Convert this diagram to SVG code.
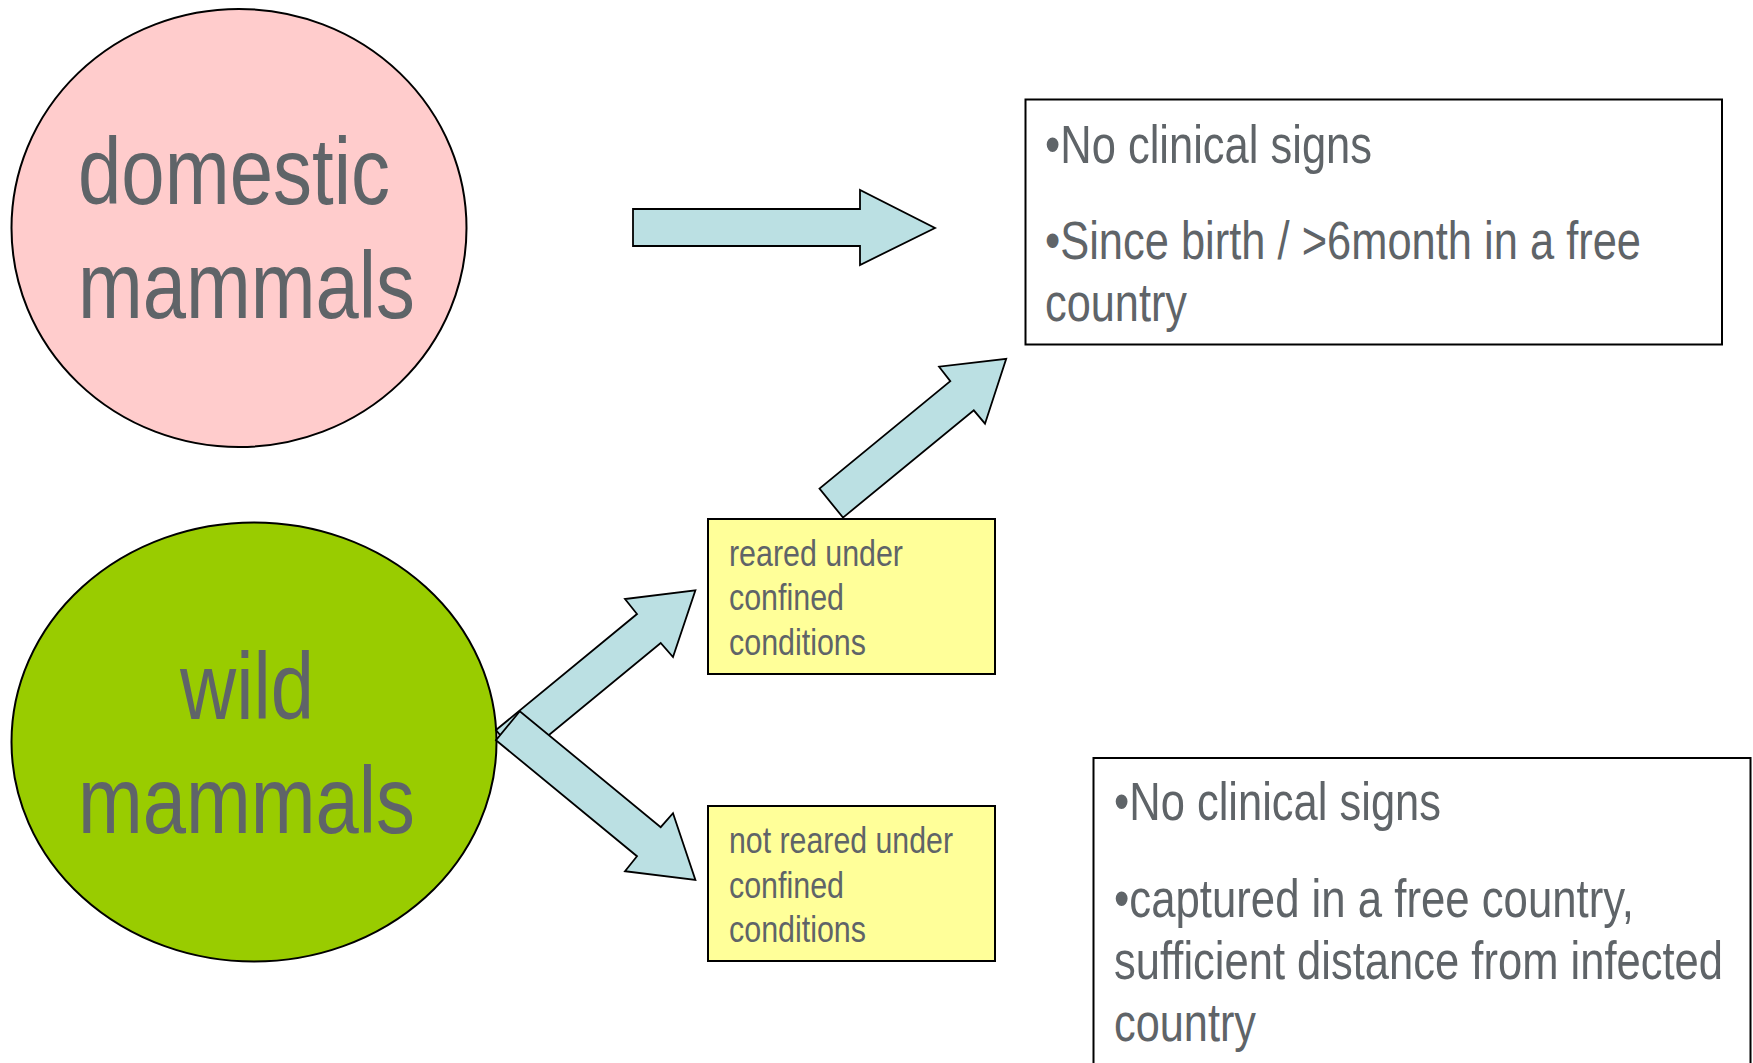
<svg xmlns="http://www.w3.org/2000/svg" width="1753" height="1063" viewBox="0 0 1753 1063">
<style>
text{font-family:"Liberation Sans Narrow","Arial Narrow","Liberation Sans",sans-serif;fill:#5f6468}
.big{font-size:95px}
.box{font-size:53px}
.small{font-size:37px}
.arrow{fill:#bbe0e3;stroke:#000;stroke-width:1.8;stroke-linejoin:miter}
.node{stroke:#000;stroke-width:2}
</style>
<rect width="1753" height="1063" fill="#fff"/>
<g id="domestic">
<ellipse class="node" cx="239" cy="228" rx="227.5" ry="219" fill="#ffcccc"/>
<text class="big" x="78" y="204" textLength="312" lengthAdjust="spacingAndGlyphs">domestic</text>
<text class="big" x="78" y="318" textLength="337" lengthAdjust="spacingAndGlyphs">mammals</text>
</g>
<g id="wild">
<ellipse class="node" cx="254" cy="742" rx="242.5" ry="219.5" fill="#99cc00"/>
<text class="big" x="180" y="719" textLength="134" lengthAdjust="spacingAndGlyphs">wild</text>
<text class="big" x="78" y="833" textLength="337" lengthAdjust="spacingAndGlyphs">mammals</text>
</g>
<g id="criteria-domestic">
<rect class="node" x="1025.5" y="99.5" width="696.5" height="245" fill="#fff"/>
<text class="box" x="1045" y="163" textLength="327" lengthAdjust="spacingAndGlyphs">•No clinical signs</text>
<text class="box" x="1045" y="259" textLength="596" lengthAdjust="spacingAndGlyphs">•Since birth / &gt;6month in a free</text>
<text class="box" x="1045" y="321" textLength="142" lengthAdjust="spacingAndGlyphs">country</text>
</g>
<g id="criteria-wild">
<rect class="node" x="1093.5" y="758" width="657" height="320" fill="#fff"/>
<text class="box" x="1114" y="820" textLength="327" lengthAdjust="spacingAndGlyphs">•No clinical signs</text>
<text class="box" x="1114" y="917" textLength="520" lengthAdjust="spacingAndGlyphs">•captured in a free country,</text>
<text class="box" x="1114" y="979" textLength="609" lengthAdjust="spacingAndGlyphs">sufficient distance from infected</text>
<text class="box" x="1114" y="1041" textLength="142" lengthAdjust="spacingAndGlyphs">country</text>
</g>
<g id="reared">
<rect class="node" x="708" y="519" width="287" height="155" fill="#ffff99"/>
<text class="small" x="729" y="566" textLength="174" lengthAdjust="spacingAndGlyphs">reared under</text>
<text class="small" x="729" y="610" textLength="115" lengthAdjust="spacingAndGlyphs">confined</text>
<text class="small" x="729" y="655" textLength="137" lengthAdjust="spacingAndGlyphs">conditions</text>
</g>
<g id="not-reared">
<rect class="node" x="708" y="806" width="287" height="155" fill="#ffff99"/>
<text class="small" x="729" y="853" textLength="224" lengthAdjust="spacingAndGlyphs">not reared under</text>
<text class="small" x="729" y="898" textLength="115" lengthAdjust="spacingAndGlyphs">confined</text>
<text class="small" x="729" y="942" textLength="137" lengthAdjust="spacingAndGlyphs">conditions</text>
</g>
<g id="connectors">
<polygon class="arrow" points="633,209 860,209 860,190 935,228 860,265 860,246 633,246"/>
<polygon class="arrow" points="843,517.6 973.8,410.3 985,423.7 1006.2,358.9 939.1,366.7 950.3,381.2 819.5,488.6"/>
<polygon class="arrow" points="496,730 637,614 625,599 695.4,590.3 673,657 660.7,643 519.8,759"/>
<polygon class="arrow" points="496,740.2 637,856.2 625,871.2 695.4,879.9 673,813.2 660.7,827.2 519.8,711.2"/>
</g>
</svg>
